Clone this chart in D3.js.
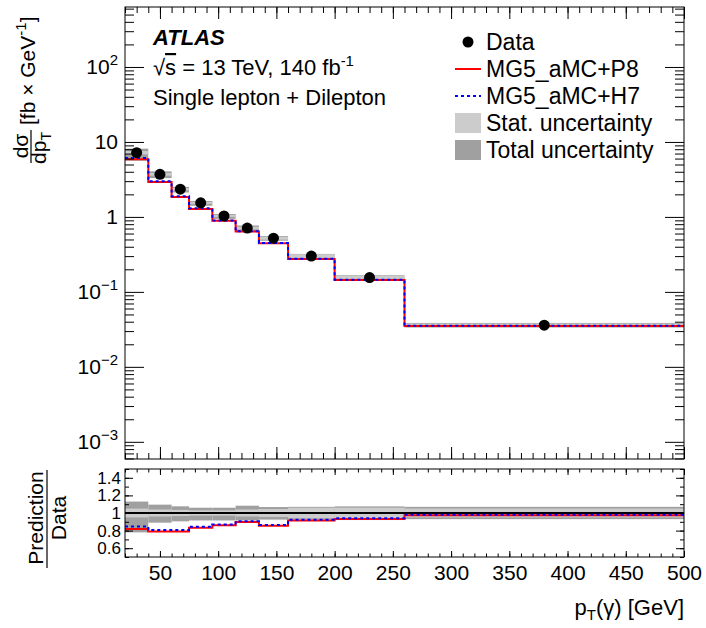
<!DOCTYPE html>
<html>
<head>
<meta charset="utf-8">
<script src="https://cdn.jsdelivr.net/npm/d3@7"></script>
<style>
body { margin: 0; background: #fff; }
text { font-family: "Liberation Sans", Arial, Helvetica, sans-serif; fill: #000; }
</style>
</head>
<body>
<div class="chart"></div>
<script>
const binEdges = [20, 40, 60, 75, 95, 115, 135, 160, 200, 260, 500];
const binCenters = [30, 50, 67.5, 85, 105, 125, 147.5, 180, 230, 380];
const dataValues = [7.2, 3.7, 2.34, 1.54, 1.03, 0.71, 0.52, 0.30, 0.155, 0.036];
const predP8 = [5.89, 2.92, 1.85, 1.28, 0.886, 0.638, 0.445, 0.275, 0.1445, 0.0351];
const predH7 = [6.11, 2.98, 1.886, 1.30, 0.896, 0.643, 0.449, 0.277, 0.1455, 0.0353];
const ratioP8 = [0.818, 0.79, 0.79, 0.833, 0.86, 0.898, 0.856, 0.916, 0.932, 0.975];
const ratioH7 = [0.848, 0.806, 0.806, 0.845, 0.87, 0.905, 0.863, 0.924, 0.939, 0.98];
// relative uncertainties
const totUncUp = [0.13, 0.095, 0.076, 0.06, 0.06, 0.083, 0.068, 0.07, 0.075, 0.07];
const totUncDown = [0.22, 0.11, 0.095, 0.085, 0.085, 0.085, 0.075, 0.075, 0.08, 0.07];
const statUnc = [0.05, 0.04, 0.035, 0.03, 0.03, 0.04, 0.045, 0.06, 0.06, 0.05];

const xTicks = [50, 100, 150, 200, 250, 300, 350, 400, 450, 500];
const yTicks = [1e-3, 1e-2, 1e-1, 1, 10, 100];
const yTickLabels = [["10", "−3"], ["10", "−2"], ["10", "−1"], ["1", ""], ["10", ""], ["10", "2"]];
const ratioTicks = [0.6, 0.8, 1, 1.2, 1.4];
const legendLabels = ["Data", "MG5_aMC+P8", "MG5_aMC+H7", "Stat. uncertainty", "Total uncertainty"];

const colStat = "#cccccc", colTot = "#a0a0a0";

const mainBox = { left: 125, right: 684, top: 7, bottom: 459 };
const ratioBox = { left: 125, right: 684, top: 469, bottom: 557 };

const svg = d3.select(".chart")
    .append("svg")
    .attr("width", 706)
    .attr("height", 628);

// Scales
const scaleX = d3.scaleLinear().domain([20, 500]).range([mainBox.left, mainBox.right]);
const scaleY = d3.scaleLog().domain([5.9e-4, 631]).range([mainBox.bottom, mainBox.top]);
const scaleR = d3.scaleLinear().domain([0.5, 1.5]).range([ratioBox.bottom, ratioBox.top]);

// Clip paths
const defs = svg.append("defs");
defs.append("clipPath").attr("id", "clipMain").append("rect")
    .attr("x", mainBox.left).attr("y", mainBox.top)
    .attr("width", mainBox.right - mainBox.left).attr("height", mainBox.bottom - mainBox.top);
defs.append("clipPath").attr("id", "clipRatio").append("rect")
    .attr("x", ratioBox.left).attr("y", ratioBox.top)
    .attr("width", ratioBox.right - ratioBox.left).attr("height", ratioBox.bottom - ratioBox.top);

const bins = dataValues.map((v, i) => ({
    x0: binEdges[i], x1: binEdges[i + 1], xc: binCenters[i], v: v,
    totUp: totUncUp[i], totDn: totUncDown[i], stat: statUnc[i]
}));

const stepLine = (sy, vals) => d3.line()
    .x(d => scaleX(d[0]))
    .y(d => sy(d[1]))
    .curve(d3.curveStepAfter)(binEdges.map((e, i) => [e, vals[Math.min(i, vals.length - 1)]]));

// ---------- Main panel ----------
const main = svg.append("g").attr("clip-path", "url(#clipMain)");

// Total uncertainty boxes
main.selectAll(".tot").data(bins).enter().append("rect")
    .attr("x", d => scaleX(d.x0))
    .attr("width", d => scaleX(d.x1) - scaleX(d.x0))
    .attr("y", d => scaleY(d.v * (1 + d.totUp)))
    .attr("height", d => scaleY(d.v * (1 - d.totDn)) - scaleY(d.v * (1 + d.totUp)))
    .attr("fill", colTot);

// Stat uncertainty boxes
main.selectAll(".stat").data(bins).enter().append("rect")
    .attr("x", d => scaleX(d.x0))
    .attr("width", d => scaleX(d.x1) - scaleX(d.x0))
    .attr("y", d => scaleY(d.v * (1 + d.stat)))
    .attr("height", d => scaleY(d.v * (1 - d.stat)) - scaleY(d.v * (1 + d.stat)))
    .attr("fill", colStat);

// Predictions
main.append("path").attr("d", stepLine(scaleY, predP8))
    .attr("fill", "none").attr("stroke", "#ff0000").attr("stroke-width", 2);
main.append("path").attr("d", stepLine(scaleY, predH7))
    .attr("fill", "none").attr("stroke", "#0000ff").attr("stroke-width", 2)
    .attr("stroke-dasharray", "3,3");

// Data points
main.selectAll(".pt").data(bins).enter().append("circle")
    .attr("cx", d => scaleX(d.xc))
    .attr("cy", d => scaleY(d.v))
    .attr("r", 5.5)
    .attr("fill", "#000");

// ---------- Axes helpers ----------
const addTicks = (axis, transform) => {
    const g = svg.append("g").attr("transform", transform).call(axis);
    g.select(".domain").remove();
    g.selectAll("line").attr("stroke", "#000").attr("stroke-width", 1);
    return g;
};

const xMinor = d3.range(20, 501, 10);
let yMinor = [];
[1e-4, 1e-3, 1e-2, 1e-1, 1, 10, 100].forEach(dec => {
    for (let k = 2; k <= 9; k++) yMinor.push(dec * k);
});
yMinor = yMinor.filter(v => v >= 5.9e-4 && v <= 631);
const rMinor = d3.range(0.5, 1.51, 0.1);

// Main X ticks (bottom + top)
addTicks(d3.axisBottom(scaleX).tickValues(xTicks).tickSize(-12).tickFormat(""), `translate(0,${mainBox.bottom})`);
addTicks(d3.axisBottom(scaleX).tickValues(xMinor).tickSize(-6).tickFormat(""), `translate(0,${mainBox.bottom})`);
addTicks(d3.axisTop(scaleX).tickValues(xTicks).tickSize(-12).tickFormat(""), `translate(0,${mainBox.top})`);
addTicks(d3.axisTop(scaleX).tickValues(xMinor).tickSize(-6).tickFormat(""), `translate(0,${mainBox.top})`);

// Main Y ticks (left + right)
addTicks(d3.axisLeft(scaleY).tickValues(yTicks).tickSize(-19).tickFormat(""), `translate(${mainBox.left},0)`);
addTicks(d3.axisLeft(scaleY).tickValues(yMinor).tickSize(-9).tickFormat(""), `translate(${mainBox.left},0)`);
addTicks(d3.axisRight(scaleY).tickValues(yTicks).tickSize(-19).tickFormat(""), `translate(${mainBox.right},0)`);
addTicks(d3.axisRight(scaleY).tickValues(yMinor).tickSize(-9).tickFormat(""), `translate(${mainBox.right},0)`);

// Main Y labels
const yLab = svg.selectAll(".ylab").data(yTicks).enter().append("text")
    .attr("x", 118)
    .attr("y", d => scaleY(d) + 7.5)
    .attr("text-anchor", "end")
    .attr("font-size", 21);
yLab.append("tspan").text((d, i) => yTickLabels[i][0]);
yLab.append("tspan")
    .attr("font-size", 15)
    .attr("dy", -9)
    .text((d, i) => yTickLabels[i][1]);

// Main frame
svg.append("rect")
    .attr("x", mainBox.left).attr("y", mainBox.top)
    .attr("width", mainBox.right - mainBox.left).attr("height", mainBox.bottom - mainBox.top)
    .attr("fill", "none").attr("stroke", "#000").attr("stroke-width", 1);

// ---------- Ratio panel ----------
const ratio = svg.append("g").attr("clip-path", "url(#clipRatio)");

ratio.selectAll(".rtot").data(bins).enter().append("rect")
    .attr("x", d => scaleX(d.x0))
    .attr("width", d => scaleX(d.x1) - scaleX(d.x0))
    .attr("y", d => scaleR(1 + d.totUp))
    .attr("height", d => scaleR(1 - d.totDn) - scaleR(1 + d.totUp))
    .attr("fill", colTot);

ratio.selectAll(".rstat").data(bins).enter().append("rect")
    .attr("x", d => scaleX(d.x0))
    .attr("width", d => scaleX(d.x1) - scaleX(d.x0))
    .attr("y", d => scaleR(1 + d.stat))
    .attr("height", d => scaleR(1 - d.stat) - scaleR(1 + d.stat))
    .attr("fill", colStat);

ratio.append("line")
    .attr("x1", mainBox.left).attr("x2", mainBox.right)
    .attr("y1", scaleR(1)).attr("y2", scaleR(1))
    .attr("stroke", "#000").attr("stroke-width", 2);

ratio.append("path").attr("d", stepLine(scaleR, ratioP8))
    .attr("fill", "none").attr("stroke", "#ff0000").attr("stroke-width", 2);
ratio.append("path").attr("d", stepLine(scaleR, ratioH7))
    .attr("fill", "none").attr("stroke", "#0000ff").attr("stroke-width", 2)
    .attr("stroke-dasharray", "3,3");

// Ratio X axis with labels
const rx = addTicks(d3.axisBottom(scaleX).tickValues(xTicks).tickSize(-6).tickPadding(8).tickFormat(d3.format("d")), `translate(0,${ratioBox.bottom})`);
rx.selectAll("text").attr("font-size", 21).attr("font-family", "Liberation Sans, Arial, sans-serif");
addTicks(d3.axisBottom(scaleX).tickValues(xMinor).tickSize(-3.5).tickFormat(""), `translate(0,${ratioBox.bottom})`);
addTicks(d3.axisTop(scaleX).tickValues(xTicks).tickSize(-6).tickFormat(""), `translate(0,${ratioBox.top})`);
addTicks(d3.axisTop(scaleX).tickValues(xMinor).tickSize(-3.5).tickFormat(""), `translate(0,${ratioBox.top})`);

// Ratio Y axis
addTicks(d3.axisLeft(scaleR).tickValues(ratioTicks).tickSize(-8).tickFormat(""), `translate(${ratioBox.left},0)`);
addTicks(d3.axisLeft(scaleR).tickValues(rMinor).tickSize(-4).tickFormat(""), `translate(${ratioBox.left},0)`);
addTicks(d3.axisRight(scaleR).tickValues(ratioTicks).tickSize(-8).tickFormat(""), `translate(${ratioBox.right},0)`);
addTicks(d3.axisRight(scaleR).tickValues(rMinor).tickSize(-4).tickFormat(""), `translate(${ratioBox.right},0)`);

svg.selectAll(".rlab").data(ratioTicks).enter().append("text")
    .attr("x", 121)
    .attr("y", d => scaleR(d) + 6)
    .attr("text-anchor", "end")
    .attr("font-size", 17)
    .text(d => d3.format("~g")(d));

svg.append("rect")
    .attr("x", ratioBox.left).attr("y", ratioBox.top)
    .attr("width", ratioBox.right - ratioBox.left).attr("height", ratioBox.bottom - ratioBox.top)
    .attr("fill", "none").attr("stroke", "#000").attr("stroke-width", 1);

// ---------- Axis titles ----------
// X title
const xt = svg.append("text")
    .attr("x", 684).attr("y", 615)
    .attr("text-anchor", "end")
    .attr("font-size", 22);
xt.append("tspan").text("p");
xt.append("tspan").attr("font-size", 15).attr("dy", 5).text("T");
xt.append("tspan").attr("dy", -5).text("(γ) [GeV]");

// Main Y title (rotated)
const yt = svg.append("g").attr("transform", "rotate(-90)");
const ytUnit = yt.append("text")
    .attr("x", -125).attr("y", 35)
    .attr("font-size", 21);
ytUnit.append("tspan").text("[fb × GeV");
ytUnit.append("tspan").attr("font-size", 15).attr("dy", -9).text("-1");
ytUnit.append("tspan").attr("dy", 9).text("]");

yt.append("text")
    .attr("x", -146).attr("y", 28)
    .attr("text-anchor", "middle")
    .attr("font-size", 21)
    .text("dσ");
yt.append("line")
    .attr("x1", -163).attr("x2", -130)
    .attr("y1", 31).attr("y2", 31)
    .attr("stroke", "#000").attr("stroke-width", 1.2);
const den = yt.append("text")
    .attr("x", -148).attr("y", 46)
    .attr("text-anchor", "middle")
    .attr("font-size", 21);
den.append("tspan").text("dp");
den.append("tspan").attr("font-size", 14).attr("dy", 5).text("T");

// Ratio Y title (rotated)
const rt = svg.append("g").attr("transform", "rotate(-90)");
rt.append("text")
    .attr("x", -518).attr("y", 43)
    .attr("text-anchor", "middle")
    .attr("font-size", 21)
    .text("Prediction");
rt.append("line")
    .attr("x1", -568).attr("x2", -470)
    .attr("y1", 47).attr("y2", 47)
    .attr("stroke", "#000").attr("stroke-width", 1.2);
rt.append("text")
    .attr("x", -518).attr("y", 66)
    .attr("text-anchor", "middle")
    .attr("font-size", 21)
    .text("Data");

// ---------- Labels ----------
svg.append("text")
    .attr("x", 153).attr("y", 45)
    .attr("font-size", 22)
    .attr("font-weight", "bold")
    .attr("font-style", "italic")
    .text("ATLAS");

const lumi = svg.append("text")
    .attr("x", 153).attr("y", 75)
    .attr("font-size", 22);
lumi.append("tspan").text("√");
lumi.append("tspan").attr("text-decoration", "overline").text("s");
lumi.append("tspan").text(" = 13 TeV, 140 fb");
lumi.append("tspan").attr("font-size", 15).attr("dy", -9).text("-1");

svg.append("text")
    .attr("x", 153).attr("y", 105)
    .attr("font-size", 22)
    .text("Single lepton + Dilepton");

// ---------- Legend ----------
const legend = svg.append("g");
const rowY = i => 42 + i * 27;

legend.append("circle").attr("cx", 468).attr("cy", rowY(0)).attr("r", 5.5).attr("fill", "#000");
legend.append("line").attr("x1", 455).attr("x2", 481).attr("y1", rowY(1)).attr("y2", rowY(1))
    .attr("stroke", "#ff0000").attr("stroke-width", 2);
legend.append("line").attr("x1", 455).attr("x2", 481).attr("y1", rowY(2)).attr("y2", rowY(2))
    .attr("stroke", "#0000ff").attr("stroke-width", 2).attr("stroke-dasharray", "3,3");
legend.append("rect").attr("x", 455).attr("y", rowY(3) - 10).attr("width", 26).attr("height", 20).attr("fill", colStat);
legend.append("rect").attr("x", 455).attr("y", rowY(4) - 10).attr("width", 26).attr("height", 20).attr("fill", colTot);

legend.selectAll(".ltxt").data(legendLabels).enter().append("text")
    .attr("x", 486)
    .attr("y", (d, i) => rowY(i) + 8)
    .attr("font-size", 23)
    .text(d => d);
</script>
</body>
</html>
